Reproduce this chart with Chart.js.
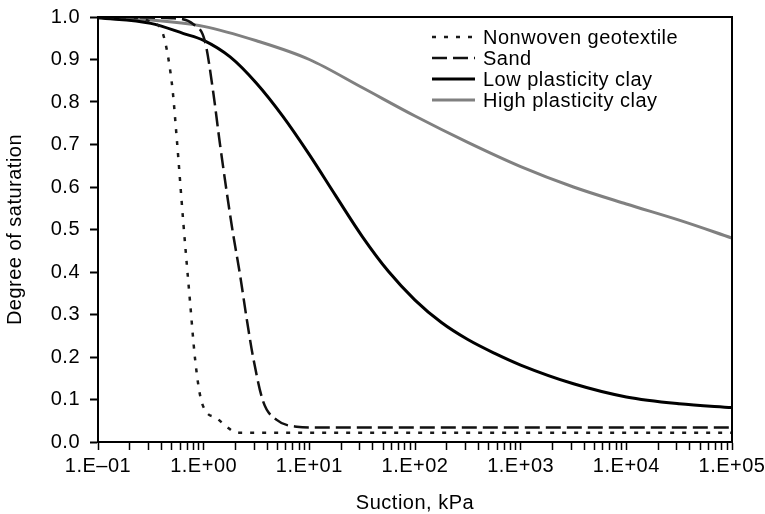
<!DOCTYPE html>
<html>
<head>
<meta charset="utf-8">
<title>Degree of saturation vs suction</title>
<script src="https://cdn.jsdelivr.net/npm/chart.js@4.4.1/dist/chart.umd.min.js"></script>
<style>
    html, body { margin: 0; padding: 0; background: #fff; }
    #chartContainer { width: 765px; height: 514px; }
</style>
</head>
<body>
<div id="chartContainer">
    <canvas id="swccChart" width="765" height="514"></canvas>
</div>
<script>
// Series values (suction in kPa, degree of saturation)
const nonwovenSuction = [0.1, 0.25, 0.33, 0.40, 0.50, 0.556, 0.641, 0.743, 0.828, 0.923, 1.03, 1.33, 1.65, 2.05, 1e5];
const nonwovenSaturation = [1.0, 0.997, 0.986, 0.969, 0.844, 0.715, 0.518, 0.330, 0.197, 0.111, 0.075, 0.056, 0.036, 0.022, 0.022];

const sandSuction = [0.1, 0.5, 0.8, 1.03, 1.23, 1.43, 1.85, 2.21, 2.55, 2.95, 3.66, 4.91, 7.6, 11.7, 1e5];
const sandSaturation = [1.0, 0.997, 0.983, 0.942, 0.824, 0.699, 0.507, 0.393, 0.291, 0.197, 0.095, 0.052, 0.036, 0.034, 0.034];

const lowClaySuction = [0.1, 0.316, 0.646, 1, 1.78, 3.16, 5.62, 10, 17.8, 31.6, 56.2, 100, 178, 316, 562, 1000, 3160, 10000, 31600, 100000];
const lowClaySaturation = [0.998, 0.985, 0.961, 0.945, 0.906, 0.844, 0.766, 0.676, 0.579, 0.484, 0.401, 0.334, 0.281, 0.241, 0.209, 0.181, 0.137, 0.106, 0.090, 0.081];

const highClaySuction = [0.1, 0.316, 1, 3.16, 10, 31.6, 100, 316, 1000, 3160, 10000, 31600, 100000];
const highClaySaturation = [0.998, 0.993, 0.978, 0.944, 0.900, 0.834, 0.767, 0.705, 0.648, 0.600, 0.560, 0.522, 0.480];

const seriesLabels = ['Nonwoven geotextile', 'Sand', 'Low plasticity clay', 'High plasticity clay'];

// Tick labels
const xDecades = [0.1, 1, 10, 100, 1000, 10000, 100000];
const xTickLabels = ['1.E\u201301', '1.E+00', '1.E+01', '1.E+02', '1.E+03', '1.E+04', '1.E+05'];
const yTickValues = [0, 0.1, 0.2, 0.3, 0.4, 0.5, 0.6, 0.7, 0.8, 0.9, 1.0];
const yTickLabels = ['0.0', '0.1', '0.2', '0.3', '0.4', '0.5', '0.6', '0.7', '0.8', '0.9', '1.0'];

const FONT_FAMILY = '"Liberation Sans", Arial, Helvetica, sans-serif';
const FONT_SIZE = 20;
const LETTER_SPACING = '0.5px';

function toPoints(xs, ys) {
    return xs.map((x, i) => ({ x: x, y: ys[i] }));
}

// log axis: major tick at each decade, minor ticks at 2..9
function buildLogTicks() {
    const ticks = [];
    xDecades.forEach((d, i) => {
        ticks.push({ value: d, major: true });
        if (i < xDecades.length - 1) {
            for (let k = 2; k <= 9; k++) ticks.push({ value: d * k, major: false });
        }
    });
    return ticks;
}

// text in the reference is a bit wider than Arial, add a little tracking
const letterSpacingPlugin = {
    id: 'letterSpacing',
    beforeUpdate(chart) { chart.ctx.letterSpacing = LETTER_SPACING; },
    beforeDraw(chart) { chart.ctx.letterSpacing = LETTER_SPACING; },
};

// closed frame round the plot
const framePlugin = {
    id: 'plotFrame',
    afterDraw(chart) {
        const { ctx, chartArea } = chart;
        ctx.save();
        ctx.strokeStyle = '#000';
        ctx.lineWidth = 2;
        ctx.strokeRect(chartArea.left, chartArea.top, chartArea.right - chartArea.left, chartArea.bottom - chartArea.top);
        ctx.restore();
    },
};

// legend inside the plot, upper right
const insideLegendPlugin = {
    id: 'insideLegend',
    afterDraw(chart) {
        const { ctx, chartArea } = chart;
        const x0 = chartArea.right - 300;
        const y0 = chartArea.top + 20;
        chart.data.datasets.forEach((ds, i) => {
            const y = y0 + i * 21;
            ctx.save();
            ctx.strokeStyle = ds.borderColor;
            ctx.lineWidth = ds.borderWidth;
            ctx.setLineDash(ds.borderDash || []);
            ctx.beginPath();
            ctx.moveTo(x0, y);
            ctx.lineTo(x0 + 43, y);
            ctx.stroke();
            ctx.setLineDash([]);
            ctx.fillStyle = '#000';
            ctx.font = `${FONT_SIZE}px ${FONT_FAMILY}`;
            ctx.letterSpacing = LETTER_SPACING;
            ctx.textBaseline = 'middle';
            ctx.textAlign = 'left';
            ctx.fillText(ds.label, x0 + 51, y + 1);
            ctx.restore();
        });
    },
};

document.addEventListener('DOMContentLoaded', () => {
    const ctx = document.getElementById('swccChart').getContext('2d');

    new Chart(ctx, {
        type: 'line',
        data: {
            datasets: [
                {
                    label: seriesLabels[0],
                    data: toPoints(nonwovenSuction, nonwovenSaturation),
                    borderColor: '#1a1a1a',
                    borderWidth: 2.5,
                    borderDash: [4, 8],
                },
                {
                    label: seriesLabels[1],
                    data: toPoints(sandSuction, sandSaturation),
                    borderColor: '#111',
                    borderWidth: 2.5,
                    borderDash: [15, 6],
                },
                {
                    label: seriesLabels[2],
                    data: toPoints(lowClaySuction, lowClaySaturation),
                    borderColor: '#000',
                    borderWidth: 3,
                },
                {
                    label: seriesLabels[3],
                    data: toPoints(highClaySuction, highClaySaturation),
                    borderColor: '#808080',
                    borderWidth: 3,
                },
            ],
        },
        options: {
            responsive: false,
            animation: false,
            devicePixelRatio: 1,
            elements: {
                point: { radius: 0, hoverRadius: 0 },
                line: { fill: false, cubicInterpolationMode: 'monotone', borderCapStyle: 'butt' },
            },
            layout: {
                padding: { left: 0, right: 33, top: 17, bottom: 0 },
            },
            plugins: {
                legend: { display: false },
                tooltip: { enabled: false },
                title: { display: false },
            },
            scales: {
                x: {
                    type: 'logarithmic',
                    min: 0.1,
                    max: 100000,
                    afterFit: (scale) => {
                        scale.height = 72;
                        scale.paddingLeft = 0;
                        scale.paddingRight = 0;
                    },
                    afterBuildTicks: (scale) => { scale.ticks = buildLogTicks(); },
                    ticks: {
                        autoSkip: false,
                        maxRotation: 0,
                        minRotation: 0,
                        padding: 4,
                        color: '#000',
                        font: { family: FONT_FAMILY, size: FONT_SIZE },
                        callback: (value) => {
                            const idx = xDecades.findIndex((d) => Math.abs(d - value) < d * 1e-6);
                            return idx >= 0 ? xTickLabels[idx] : '';
                        },
                    },
                    grid: {
                        drawOnChartArea: false,
                        drawTicks: true,
                        tickLength: 8,
                        tickColor: '#000',
                        tickWidth: 1.5,
                    },
                    border: { display: true, color: '#000', width: 2 },
                    title: {
                        display: true,
                        text: 'Suction, kPa',
                        color: '#000',
                        font: { family: FONT_FAMILY, size: FONT_SIZE, lineHeight: 1 },
                        padding: { top: 0, bottom: 1 },
                    },
                },
                y: {
                    min: 0,
                    max: 1,
                    afterFit: (scale) => {
                        scale.width = 98;
                        scale.paddingTop = 0;
                        scale.paddingBottom = 0;
                    },
                    afterBuildTicks: (scale) => { scale.ticks = yTickValues.map((v) => ({ value: v })); },
                    ticks: {
                        padding: 10,
                        color: '#000',
                        font: { family: FONT_FAMILY, size: FONT_SIZE },
                        callback: (value, index) => yTickLabels[index],
                    },
                    grid: {
                        drawOnChartArea: false,
                        drawTicks: true,
                        tickLength: 8,
                        tickColor: '#000',
                        tickWidth: 2,
                    },
                    border: { display: true, color: '#000', width: 2 },
                    title: {
                        display: true,
                        text: 'Degree of saturation',
                        color: '#000',
                        font: { family: FONT_FAMILY, size: FONT_SIZE, lineHeight: 1 },
                        padding: { top: 5, bottom: 0 },
                    },
                },
            },
        },
        plugins: [letterSpacingPlugin, framePlugin, insideLegendPlugin],
    });
});
</script>
</body>
</html>
